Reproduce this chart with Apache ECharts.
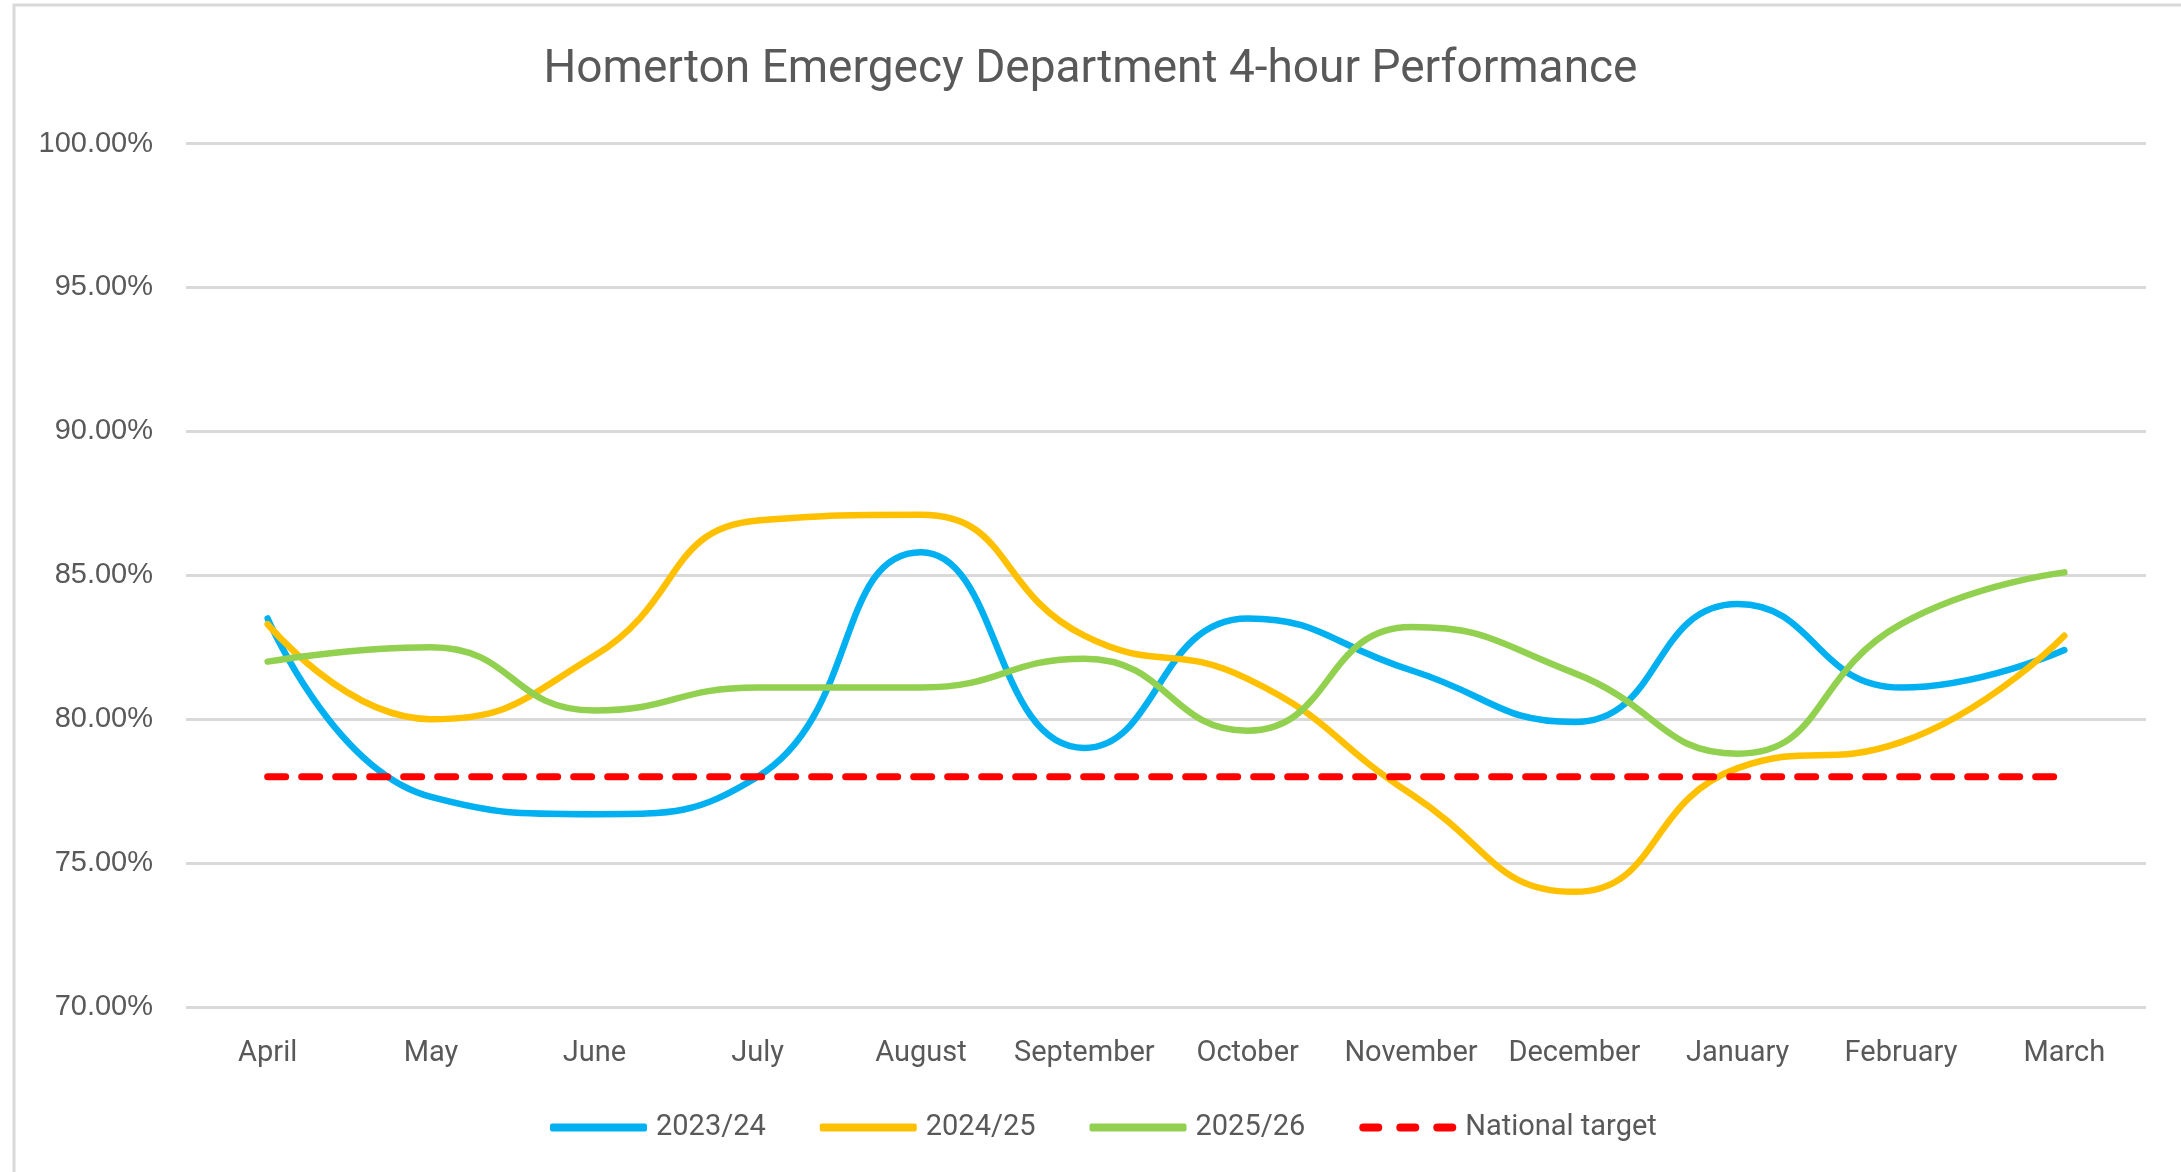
<!DOCTYPE html>
<html>
<head>
<meta charset="utf-8">
<script src="https://cdn.jsdelivr.net/npm/echarts@6/dist/echarts.min.js"></script>
<style>
html,body{margin:0;padding:0;background:#fff;}
#chart{width:2181px;height:1172px;}
</style>
</head>
<body>
<div id="chart"></div>
<script>
const months = ['April','May','June','July','August','September','October','November','December','January','February','March'];
const s2023 = [83.5, 77.3, 76.7, 78.0, 85.8, 79.0, 83.5, 81.7, 79.9, 84.0, 81.1, 82.4];
const s2024 = [83.3, 80.0, 82.2, 86.9, 87.1, 82.9, 81.4, 77.4, 74.0, 78.3, 79.2, 82.9];
const s2025 = [82.0, 82.5, 80.3, 81.1, 81.1, 82.1, 79.6, 83.2, 81.6, 78.8, 83.3, 85.1];
const target = [78, 78, 78, 78, 78, 78, 78, 78, 78, 78, 78, 78];
const seriesNames = ['2023/24','2024/25','2025/26','National target'];
const yTicks = {min: 70, max: 100, interval: 5};

const textFont = 'Roboto';
const dashIcon = 'path://' + [0, 37, 74].map(o =>
  `M${o+4},0 h15 a4,4 0 0 1 0,8 h-15 a4,4 0 0 1 0,-8 z`).join(' ');
const chart = echarts.init(document.getElementById('chart'), null, {renderer:'canvas'});
const lineSeries = (name, data, color) => ({
  name, type:'line', data, smooth:0.5, symbol:'none',
  lineStyle:{color, width:6.5, cap:'round'}, itemStyle:{color}
});
chart.setOption({
  animation:false,
  backgroundColor:'#fff',
  title:{
    text:'Homerton Emergecy Department 4-hour Performance',
    left:'center', top:42,
    textStyle:{fontFamily:textFont, fontSize:46, fontWeight:'normal', color:'#595959'}
  },
  graphic:[{
    type:'rect', shape:{x:14, y:5, width:2200, height:1200},
    style:{fill:null, stroke:'#d9d9d9', lineWidth:3}, silent:true, z:-1
  }],
  grid:{left:186, right:35, top:143.5, bottom:165, containLabel:false},
  xAxis:{
    type:'category', data:months, boundaryGap:true,
    axisLine:{show:false}, axisTick:{show:false},
    axisLabel:{interval:0, fontFamily:textFont, fontSize:29, color:'#595959', margin:32}
  },
  yAxis:{
    type:'value', min:yTicks.min, max:yTicks.max, interval:yTicks.interval,
    axisLine:{show:false}, axisTick:{show:false},
    splitLine:{lineStyle:{color:'#d9d9d9', width:3}},
    axisLabel:{fontFamily:'Liberation Sans', fontSize:29, color:'#595959', margin:33,
      formatter:v=>v.toFixed(2)+'%'}
  },
  legend:{
    bottom:25, left:545, itemWidth:97, itemHeight:8, itemGap:54,
    data:[
      {name:seriesNames[0], icon:'roundRect'},
      {name:seriesNames[1], icon:'roundRect'},
      {name:seriesNames[2], icon:'roundRect'},
      {name:seriesNames[3], icon:dashIcon}
    ],
    itemStyle:{borderWidth:0},
    textStyle:{fontFamily:textFont, fontSize:29, color:'#595959', padding:[0,0,0,4]}
  },
  series:[
    lineSeries(seriesNames[0], s2023, '#00B0F0'),
    lineSeries(seriesNames[1], s2024, '#FFC000'),
    lineSeries(seriesNames[2], s2025, '#92D050'),
    {name:seriesNames[3], type:'line', data:target, symbol:'none',
     lineStyle:{color:'#FF0000', width:7, type:[18,16], cap:'round'}, itemStyle:{color:'#FF0000'}}
  ]
});
</script>
</body>
</html>
